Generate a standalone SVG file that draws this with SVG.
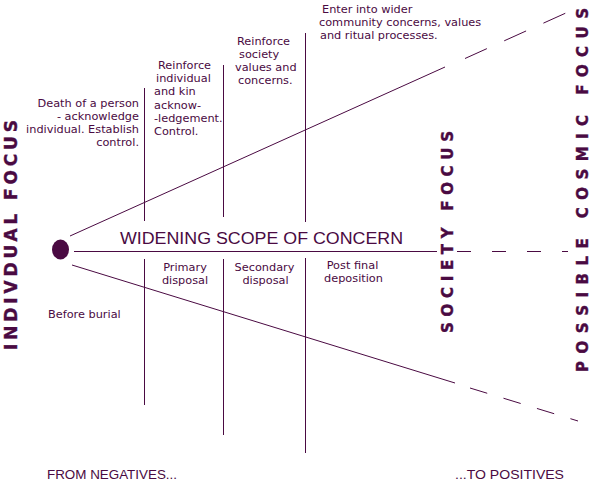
<svg xmlns="http://www.w3.org/2000/svg" width="600" height="491" viewBox="0 0 600 491">
<style>
.ln{stroke:#4a0a42;stroke-width:1;fill:none}
.t{font-family:"DejaVu Sans",Verdana,sans-serif;font-size:11.3px;fill:#4a0a42}
.m{text-anchor:middle}
.e{text-anchor:end}
.v{font-family:"DejaVu Sans",Verdana,sans-serif;font-weight:900;fill:#4a0a42;text-anchor:middle;stroke:#4a0a42;stroke-width:0.4}
.s{font-family:"Liberation Sans",Arial,sans-serif;fill:#4a0a42}
</style>
<rect width="600" height="491" fill="#ffffff"/>
<g id="connectors">
  <line class="ln" x1="70" y1="236" x2="445" y2="67"/>
  <line class="ln" x1="465" y1="58.5" x2="577" y2="8" stroke-dasharray="24 19"/>
  <line class="ln" x1="72" y1="265" x2="455" y2="383"/>
  <line class="ln" x1="470" y1="388" x2="578" y2="421" stroke-dasharray="18 17"/>
  <line class="ln" x1="74" y1="251.5" x2="437" y2="251.5"/>
  <line class="ln" x1="457" y1="251.5" x2="568" y2="251.5" stroke-dasharray="14 21"/>
  <line class="ln" x1="144.5" y1="88" x2="144.5" y2="221"/>
  <line class="ln" x1="144.5" y1="259" x2="144.5" y2="405"/>
  <line class="ln" x1="223.5" y1="65" x2="223.5" y2="217"/>
  <line class="ln" x1="223.5" y1="259" x2="223.5" y2="435"/>
  <line class="ln" x1="305.5" y1="33" x2="305.5" y2="222"/>
  <line class="ln" x1="305.5" y1="258" x2="305.5" y2="453"/>
</g>
<g id="origin">
  <ellipse cx="60.5" cy="249.5" rx="8.5" ry="10" fill="#4a0a42"/>
</g>
<g id="title">
  <text class="s" x="120" y="243.5" font-size="16" textLength="283" lengthAdjust="spacingAndGlyphs">WIDENING SCOPE OF CONCERN</text>
</g>
<g id="individual-focus">
  <text class="v" font-size="17" transform="translate(17,235) rotate(-90)" textLength="230" lengthAdjust="spacing">INDIVDUAL FOCUS</text>
</g>
<g id="society-focus">
  <text class="v" font-size="15" transform="translate(453,232) rotate(-90)" textLength="202" lengthAdjust="spacing">SOCIETY FOCUS</text>
</g>
<g id="cosmic-focus">
  <text class="v" font-size="15" transform="translate(588,190) rotate(-90)" textLength="364" lengthAdjust="spacing">POSSIBLE COSMIC FOCUS</text>
</g>
<g id="death">
  <text class="t e" x="139" y="107">Death of a person</text>
  <text class="t e" x="139" y="120">- acknowledge</text>
  <text class="t e" x="139" y="133">individual. Establish</text>
  <text class="t e" x="139" y="146">control.</text>
</g>
<g id="reinforce-individual">
  <text class="t" x="158" y="69">Reinforce</text>
  <text class="t" x="156" y="82">individual</text>
  <text class="t" x="154" y="95">and kin</text>
  <text class="t" x="154" y="108.5">acknow-</text>
  <text class="t" x="154" y="121.5">-ledgement.</text>
  <text class="t" x="154" y="135">Control.</text>
</g>
<g id="reinforce-society">
  <text class="t" x="237" y="45">Reinforce</text>
  <text class="t" x="239" y="58">society</text>
  <text class="t" x="235" y="71">values and</text>
  <text class="t" x="238" y="84">concerns.</text>
</g>
<g id="enter-community">
  <text class="t" x="322" y="13">Enter into wider</text>
  <text class="t" x="319" y="26">community concerns, values</text>
  <text class="t" x="320" y="39">and ritual processes.</text>
</g>
<g id="before-burial">
  <text class="t" x="48" y="318">Before burial</text>
</g>
<g id="primary">
  <text class="t m" x="185" y="271">Primary</text>
  <text class="t m" x="185" y="284">disposal</text>
</g>
<g id="secondary">
  <text class="t m" x="264.5" y="271">Secondary</text>
  <text class="t m" x="265.5" y="284">disposal</text>
</g>
<g id="post-final">
  <text class="t m" x="352.5" y="269">Post final</text>
  <text class="t m" x="353.5" y="282">deposition</text>
</g>
<g id="negatives">
  <text class="s" x="47" y="479" font-size="13" textLength="130" lengthAdjust="spacingAndGlyphs">FROM NEGATIVES...</text>
</g>
<g id="positives">
  <text class="s" x="455" y="479" font-size="13" textLength="109" lengthAdjust="spacingAndGlyphs">...TO POSITIVES</text>
</g>
</svg>
